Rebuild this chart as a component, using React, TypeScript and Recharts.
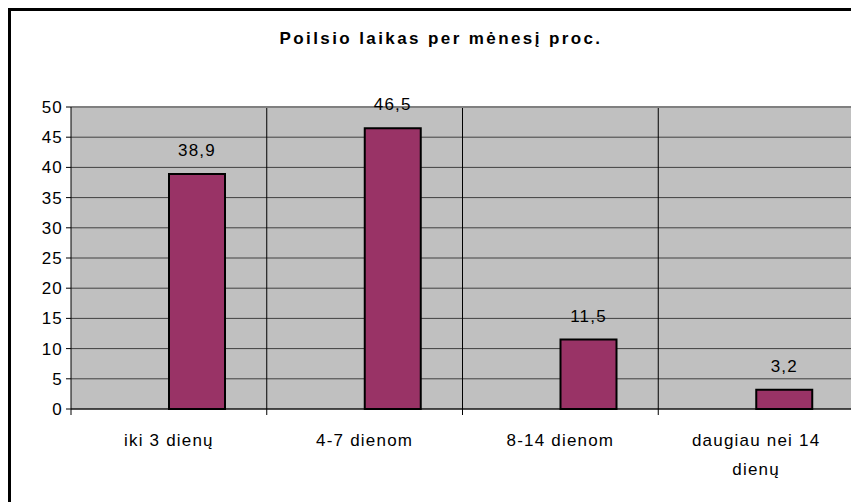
import { BarChart, Bar, XAxis, YAxis, CartesianGrid, LabelList, ReferenceLine, Text } from 'recharts';

const categories = ['iki 3 dienų', '4-7 dienom', '8-14 dienom', 'daugiau nei 14 dienų'];
const shareValues = [38.9, 46.5, 11.5, 3.2];
// the source chart keeps an empty first series, which pushes each bar right of centre
const emptySeries = [null, null, null, null];
const yTicks = [0, 5, 10, 15, 20, 25, 30, 35, 40, 45, 50];

const data = categories.map((name, i) => ({
  name,
  blank: emptySeries[i],
  share: shareValues[i],
}));

const FONT = '"Liberation Sans", Arial, sans-serif';
const textStyle = { fontSize: 17, fontFamily: FONT, letterSpacing: '1.2px' };

function CategoryTick(props: any) {
  const { x, y, payload, index, visibleTicksCount } = props;
  const plotWidth = props.width ?? 783;
  const band = plotWidth / visibleTicksCount;
  return (
    <g>
      <line x1={x - band / 2} x2={x - band / 2} y1={y} y2={y + 6} stroke="#000" />
      {index === visibleTicksCount - 1 && (
        <line x1={x + band / 2} x2={x + band / 2} y1={y} y2={y + 6} stroke="#000" />
      )}
      <Text
        x={x}
        y={y + 25}
        width={150}
        textAnchor="middle"
        verticalAnchor="start"
        lineHeight={29}
        fill="#000"
        style={textStyle}
      >
        {payload.value}
      </Text>
    </g>
  );
}

export default function App() {
  return (
    <div
      style={{
        position: 'relative',
        width: 851,
        height: 494,
        boxSizing: 'border-box',
        borderLeft: '3px solid #000',
        borderTop: '3px solid #000',
        overflow: 'hidden',
        background: '#fff',
        fontFamily: FONT,
        letterSpacing: '1.2px',
      }}
    >
      <div
        style={{
          position: 'absolute',
          left: 0,
          top: 18,
          width: 860,
          textAlign: 'center',
          fontSize: 17,
          lineHeight: '20px',
          fontWeight: 'bold',
          letterSpacing: '2.4px',
          color: '#000',
        }}
      >
        Poilsio laikas per mėnesį proc.
      </div>
      <div style={{ position: 'absolute', left: 0, top: 0 }}>
        <BarChart
          width={848}
          height={491}
          data={data}
          margin={{ top: 96, right: 5, bottom: 0, left: 0 }}
          barSize={56}
          barGap={0}
        >
          <CartesianGrid vertical={false} fill="#C0C0C0" stroke="#404040" />
          <CartesianGrid
            horizontal={false}
            stroke="#000"
            verticalCoordinatesGenerator={({ offset }: any) =>
              [1, 2, 3].map((i) => offset.left + (offset.width * i) / categories.length)
            }
          />
          <CartesianGrid
            horizontal={false}
            stroke="#808080"
            strokeWidth={2}
            verticalCoordinatesGenerator={({ offset }: any) => [offset.left + offset.width]}
          />
          <XAxis
            dataKey="name"
            interval={0}
            tickLine={false}
            tickSize={0}
            tickMargin={0}
            height={93}
            axisLine={{ stroke: '#000' }}
            tick={<CategoryTick />}
          />
          <YAxis
            domain={[0, 50]}
            ticks={yTicks}
            interval={0}
            width={60}
            tickSize={5}
            tickMargin={3}
            axisLine={{ stroke: '#000' }}
            tickLine={{ stroke: '#000' }}
            tick={{ fontSize: 17, fill: '#000', style: textStyle }}
          />
          <ReferenceLine y={50} stroke="#808080" strokeWidth={2} />
          <Bar dataKey="blank" fill="#993366" isAnimationActive={false} />
          <Bar dataKey="share" fill="#993366" stroke="#000" strokeWidth={2} isAnimationActive={false}>
            <LabelList
              dataKey="share"
              position="top"
              offset={18}
              fill="#000"
              fontSize={17}
              style={textStyle}
              formatter={(v: any) => String(v).replace('.', ',')}
            />
          </Bar>
        </BarChart>
      </div>
    </div>
  );
}
